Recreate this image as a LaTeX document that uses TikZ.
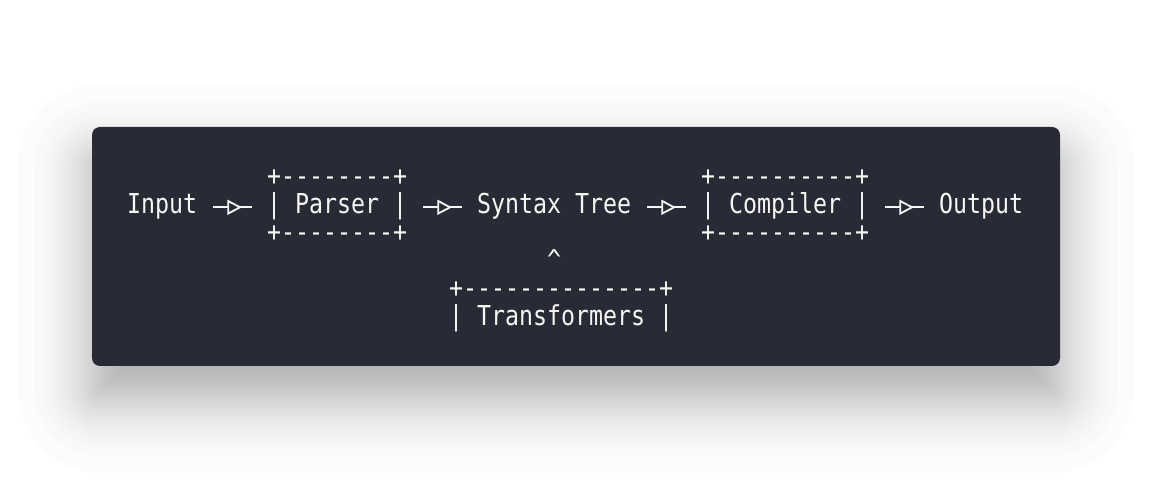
\documentclass[tikz,border=0pt]{standalone}
\usepackage{fontspec}
\newfontfamily\codefont[FakeStretch=0.849]{DejaVu Sans Mono}
\usetikzlibrary{calc,decorations.markings}
\definecolor{panel}{HTML}{282A36}
\definecolor{fg}{HTML}{F8F8F2}
\tikzset{
  txt/.style={anchor=base west, inner sep=0pt, outer sep=0pt, text=fg,
    font=\codefont\fontsize{27.4pt}{28pt}\selectfont},
  lig/.style={draw=fg, line width=1.8pt, postaction={decorate},
    decoration={markings, mark=at position 0.5 with {
      \filldraw[draw=fg, fill=panel, line width=1.8pt, line join=miter]
        (-4.5pt,-6.2pt) -- (7.2pt,0pt) -- (-4.5pt,6.2pt) -- cycle;}}},
  panelbox/.style={fill=panel, rounded corners=8pt},
  shadowlayer/.style={fill=black, fill opacity=0.0135}
}
\begin{document}
\begin{tikzpicture}[x=1pt,y=-1pt]
\useasboundingbox (0,0) rectangle (1152,494);
\fill[white] (0,0) rectangle (1152,494);
% soft drop shadow: stacked layers at gaussian quantiles (sigma = 35)
\foreach \z in {-2.128,-1.645,-1.383,-1.192,-1.036,-0.903,-0.783,-0.674,-0.573,-0.477,
                -0.385,-0.297,-0.210,-0.126,-0.042,0.042,0.126,0.210,0.297,0.385,
                0.477,0.573,0.674,0.783,0.903,1.036,1.192,1.383,1.645,2.128}{
  \pgfmathsetmacro{\g}{35*\z}
  \pgfmathsetmacro{\rr}{max(8+\g,1)}
  \fill[shadowlayer, rounded corners=\rr pt]
    (92-\g, 159-\g) rectangle (1060+\g, 398+\g);
}
\path[panelbox] (92,127) rectangle (1060,366);

% row 0 (baseline 186)
\node[txt] (parserTop) at (267,186) {+--------+};
\node[txt] (compilerTop) at (701,186) {+----------+};
% row 1 (baseline 214)
\node[txt] (input) at (127,214) {Input};
\node[txt] (parser) at (267,214) {| Parser |};
\node[txt] (syntax) at (477,214) {Syntax Tree};
\node[txt] (compiler) at (701,214) {| Compiler |};
\node[txt] (output) at (939,214) {Output};
% row 2 (baseline 242)
\node[txt] (parserBot) at (267,242) {+--------+};
\node[txt] (compilerBot) at (701,242) {+----------+};
% row 3 (baseline 270)
\node[txt] (caret) at (547,270) {\textasciicircum};
% rows 4-5
\node[txt] (transTop) at (449,298) {+--------------+};
\node[txt] (trans) at (449,326) {| Transformers |};

% ligature arrows
\draw[lig] ($(input.base east)+(16.3,-6.7)$) -- ($(parser.base west)+(-14.7,-6.7)$);
\draw[lig] ($(parser.base east)+(16.3,-6.7)$) -- ($(syntax.base west)+(-14.7,-6.7)$);
\draw[lig] ($(syntax.base east)+(16.3,-6.7)$) -- ($(compiler.base west)+(-14.7,-6.7)$);
\draw[lig] ($(compiler.base east)+(16.3,-6.7)$) -- ($(output.base west)+(-14.7,-6.7)$);
\end{tikzpicture}
\end{document}
